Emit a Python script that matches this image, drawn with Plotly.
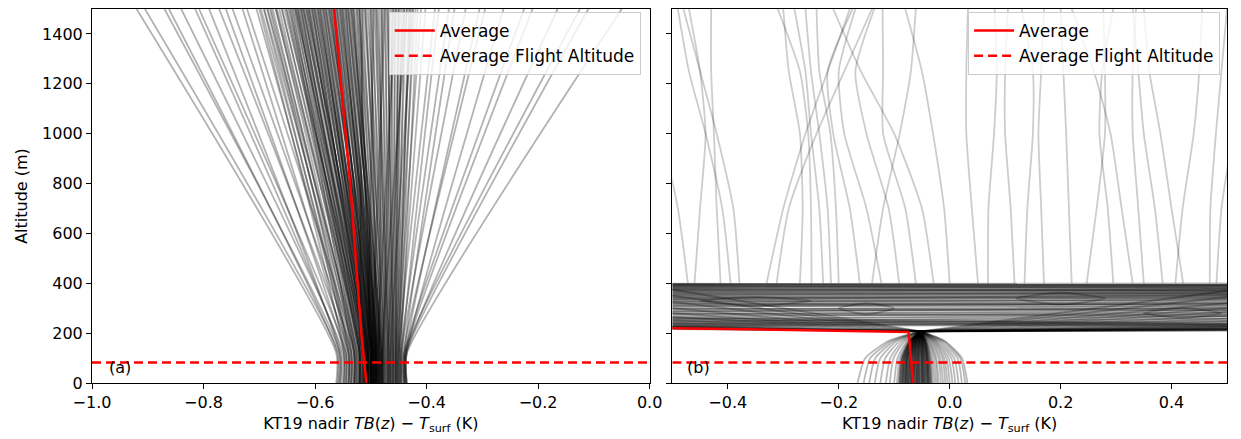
import plotly.graph_objects as go

# ---------------- Panel (a) data ----------------
L_KNEE_Z = 120          # altitude below which profiles are ~vertical
L_TOP_Z = 1500
L_XB = [  # TB(z)-Tsurf at the surface (z=0)
    -0.562,-0.558,-0.555,-0.56,-0.55,-0.553,-0.545,-0.556,-0.54,-0.548,-0.535,-0.545,-0.53,-0.54,
    -0.548,-0.538,-0.543,-0.53,-0.536,-0.525,-0.54,-0.528,-0.533,-0.52,-0.53,-0.518,-0.526,-0.515,-0.522,-0.51,-0.52,-0.512,-0.517,-0.508,
    -0.535,-0.522,-0.53,-0.515,-0.527,-0.51,-0.524,-0.506,-0.52,-0.512,
    -0.518,-0.503,-0.515,-0.508,-0.513,-0.5,-0.51,-0.505,-0.507,-0.498,
    -0.512,-0.502,-0.506,-0.496,-0.509,-0.5,-0.504,-0.494,-0.507,-0.498,
    -0.502,-0.492,-0.505,-0.496,-0.5,-0.49,-0.503,-0.494,-0.498,-0.488,
    -0.5,-0.492,-0.496,-0.486,-0.498,-0.49,-0.494,-0.484,-0.496,-0.488,
    -0.492,-0.482,-0.494,-0.486,-0.49,-0.48,-0.492,-0.484,
    -0.49,-0.482,-0.486,-0.478,-0.484,-0.475,-0.482,-0.472,-0.48,-0.47,
    -0.478,-0.468,-0.476,-0.466,-0.474,-0.464,-0.472,-0.462,-0.47,-0.46,
    -0.468,-0.458,-0.466,-0.456,-0.464,-0.455,-0.462,-0.453,-0.46,-0.452,
    -0.458,-0.45,-0.456,-0.448,-0.454,-0.446,
    -0.452,-0.448,-0.45,-0.444,-0.446,-0.44,-0.445,-0.438,-0.442,-0.436,-0.44,-0.438,-0.436,-0.44,-0.437,-0.435,
    -0.505,-0.515,-0.498,-0.51,-0.493,-0.505,-0.488,-0.5,-0.485,-0.495,-0.48,-0.49,
    -0.52,-0.502,-0.512,-0.496,-0.507,-0.491,-0.5,-0.487,-0.497,-0.482,-0.492,-0.478,
    -0.5,-0.475,-0.49,-0.468,-0.485,-0.46,-0.478,-0.455,-0.47,-0.45,-0.52,-0.505,-0.498,-0.488,-0.48,-0.465,
]
L_XT = [  # TB(z)-Tsurf at 1500 m
    -0.92,-0.905,-0.87,-0.862,-0.84,-0.815,-0.808,-0.79,-0.772,-0.76,-0.748,-0.73,-0.722,-0.705,
    -0.70,-0.697,-0.692,-0.691,-0.686,-0.685,-0.681,-0.679,-0.676,-0.671,-0.67,-0.668,-0.664,-0.66,-0.659,-0.655,-0.652,-0.651,-0.648,-0.646,
    -0.644,-0.642,-0.64,-0.638,-0.636,-0.634,-0.632,-0.63,-0.628,-0.626,
    -0.624,-0.622,-0.62,-0.618,-0.616,-0.614,-0.612,-0.61,-0.608,-0.606,
    -0.604,-0.602,-0.6,-0.598,-0.596,-0.594,-0.592,-0.59,-0.588,-0.586,
    -0.584,-0.582,-0.58,-0.578,-0.576,-0.574,-0.572,-0.57,-0.568,-0.566,
    -0.564,-0.562,-0.56,-0.558,-0.556,-0.554,-0.552,-0.55,-0.548,-0.546,
    -0.544,-0.542,-0.54,-0.538,-0.536,-0.534,-0.532,-0.53,
    -0.527,-0.524,-0.521,-0.518,-0.515,-0.512,-0.509,-0.506,-0.503,-0.5,
    -0.497,-0.494,-0.491,-0.488,-0.485,-0.482,-0.479,-0.476,-0.473,-0.47,
    -0.467,-0.464,-0.461,-0.458,-0.455,-0.452,-0.449,-0.446,-0.443,-0.44,
    -0.436,-0.432,-0.428,-0.424,-0.42,-0.416,
    -0.41,-0.402,-0.385,-0.378,-0.36,-0.35,-0.33,-0.305,-0.295,-0.262,-0.225,-0.21,-0.165,-0.125,-0.11,-0.05,
    -0.635,-0.625,-0.615,-0.605,-0.595,-0.585,-0.575,-0.565,-0.555,-0.545,-0.535,-0.525,
    -0.631,-0.621,-0.611,-0.601,-0.591,-0.581,-0.571,-0.561,-0.551,-0.541,-0.531,-0.521,
    -0.52,-0.51,-0.5,-0.49,-0.48,-0.47,-0.46,-0.45,-0.44,-0.43,-0.515,-0.495,-0.475,-0.455,-0.435,-0.425,
]
L_AVG_Z = [0, 200, 800, 1500]
L_AVG_X = [-0.508, -0.517, -0.537, -0.566]
FLIGHT_ALT = 82

# ---------------- Panel (b) data ----------------
R_LOW_Z = [0, 100, 170]
R_X0 = [-0.166,-0.155,-0.145,-0.135,-0.125,-0.115,-0.108,-0.1,
        -0.095,-0.092,-0.09,-0.088,-0.086,-0.084,-0.082,-0.08,-0.078,-0.076,
        -0.074,-0.072,-0.07,-0.068,-0.066,-0.064,-0.062,-0.06,-0.058,-0.056,
        -0.054,-0.052,-0.05,-0.048,-0.046,-0.044,-0.042,-0.04,-0.038,-0.036,-0.034,-0.032,
        -0.029,-0.026,-0.023,-0.02,-0.016,-0.012,-0.008,-0.004,0.0,0.005,0.01,0.016,0.022,0.028,0.032,
        -0.085,-0.075,-0.065,-0.055,-0.045,
        -0.091,-0.089,-0.087,-0.085,-0.083,-0.081,-0.079,-0.077,-0.075,-0.073,
        -0.071,-0.069,-0.067,-0.065,-0.063,-0.061,-0.059,-0.057,-0.055,-0.053,
        -0.051,-0.049,-0.047,-0.045,-0.043,-0.041,-0.039,-0.037,-0.035,-0.033,
        -0.08,-0.07,-0.06,-0.05,-0.04,-0.078,-0.068,-0.058,-0.048,-0.038]
R_X100 = [-0.152,-0.143,-0.134,-0.125,-0.116,-0.107,-0.101,-0.094,
          -0.09,-0.087,-0.085,-0.084,-0.082,-0.08,-0.078,-0.077,-0.075,-0.073,
          -0.071,-0.07,-0.068,-0.066,-0.064,-0.063,-0.061,-0.059,-0.057,-0.056,
          -0.054,-0.052,-0.05,-0.048,-0.047,-0.045,-0.043,-0.041,-0.04,-0.038,-0.036,-0.034,
          -0.032,-0.029,-0.026,-0.024,-0.02,-0.017,-0.013,-0.01,-0.006,-0.002,0.003,0.008,0.014,0.019,0.022,
          -0.081,-0.072,-0.063,-0.055,-0.046,
          -0.087,-0.085,-0.083,-0.082,-0.08,-0.078,-0.076,-0.075,-0.073,-0.071,
          -0.07,-0.068,-0.066,-0.064,-0.063,-0.061,-0.059,-0.057,-0.055,-0.053,
          -0.051,-0.05,-0.048,-0.046,-0.044,-0.043,-0.041,-0.039,-0.038,-0.036,
          -0.078,-0.069,-0.06,-0.051,-0.042,-0.076,-0.067,-0.058,-0.049,-0.04]
R_X170 = [-0.109,-0.104,-0.099,-0.094,-0.089,-0.084,-0.08,-0.076,
          -0.074,-0.072,-0.071,-0.07,-0.069,-0.068,-0.067,-0.066,-0.065,-0.064,
          -0.063,-0.062,-0.061,-0.06,-0.059,-0.058,-0.057,-0.056,-0.055,-0.054,
          -0.053,-0.052,-0.051,-0.05,-0.049,-0.048,-0.047,-0.046,-0.045,-0.044,-0.043,-0.042,
          -0.041,-0.039,-0.038,-0.036,-0.034,-0.032,-0.03,-0.028,-0.026,-0.024,-0.021,-0.018,-0.015,-0.012,-0.01,
          -0.069,-0.064,-0.059,-0.054,-0.049,
          -0.072,-0.071,-0.07,-0.069,-0.068,-0.067,-0.066,-0.065,-0.064,-0.063,
          -0.062,-0.061,-0.06,-0.059,-0.058,-0.057,-0.056,-0.055,-0.054,-0.053,
          -0.052,-0.051,-0.05,-0.049,-0.048,-0.047,-0.046,-0.045,-0.044,-0.043,
          -0.066,-0.061,-0.056,-0.051,-0.046,-0.065,-0.06,-0.055,-0.05,-0.045]
R_VERTEX_X = -0.052
R_VERTEX_Z = 207
R_FAN_RIGHT_Z = [210,211,212,213,214,215,216,217,218,219,220,222,224,226,228,
                 231,235,240,248,258,270,285,300,320,345,370]
R_FAN_LEFT_Z = [216,218,219,220,221,222,223,224,226,228,231,235,242,252,265,
                280,300,325,350,375]
R_CROSS_ZL = [398,397,395,393,391,388,385,382,379,376,373,370,366,362,358,
              354,350,346,342,338,334,330,326,322,318,314,310,305,300,295,
              290,285,280,275,270,265,260,255,250,245,240,236,232,228,225,
              396,390,384,377,369,361,353,344,336,327,318,309,297,287,277,
              238,246,252,258,262]
R_CROSS_ZR = [396,399,390,394,384,392,378,386,372,380,366,376,360,370,352,
              364,346,356,338,350,330,344,322,336,316,326,306,318,298,310,
              290,300,282,292,276,284,266,276,258,268,250,258,242,248,236,
              392,381,389,369,374,357,362,341,352,332,312,320,293,302,270,
              226,229,232,234,238]
R_UP_Z = [400, 700, 1000, 1250, 1500]
R_UP_X = [
    [-0.472,-0.49,-0.52,-0.55,-0.56],
    [-0.413,-0.42,-0.425,-0.43,-0.43],
    [-0.395,-0.41,-0.44,-0.47,-0.49],
    [-0.379,-0.39,-0.42,-0.45,-0.48],
    [-0.312,-0.29,-0.24,-0.19,-0.14],
    [-0.249,-0.25,-0.255,-0.27,-0.31],
    [-0.228,-0.235,-0.25,-0.26,-0.28],
    [-0.214,-0.22,-0.235,-0.25,-0.26],
    [-0.200,-0.205,-0.215,-0.235,-0.24],
    [-0.162,-0.18,-0.21,-0.22,-0.175],
    [-0.123,-0.15,-0.19,-0.20,-0.17],
    [-0.091,-0.11,-0.15,-0.17,-0.136],
    [-0.061,-0.08,-0.12,-0.12,-0.121],
    [-0.029,-0.05,-0.10,-0.16,-0.21],
    [-0.14,-0.12,-0.09,-0.07,-0.061],
    [0.051,0.04,0.03,0.03,0.033],
    [0.069,0.07,0.08,0.085,0.081],
    [0.117,0.11,0.10,0.10,0.105],
    [0.135,0.14,0.15,0.15,0.13],
    [0.170,0.165,0.16,0.165,0.170],
    [0.247,0.265,0.28,0.28,0.277],
    [0.295,0.285,0.27,0.275,0.295],
    [0.330,0.31,0.29,0.26,0.22],
    [0.350,0.34,0.33,0.33,0.336],
    [0.384,0.37,0.35,0.34,0.33],
    [0.407,0.42,0.44,0.45,0.455],
    [0.421,0.40,0.38,0.36,0.35],
    [0.469,0.47,0.48,0.49,0.50],
    [0.481,0.49,0.51,0.52,0.53],
    [-0.46,-0.45,-0.44,-0.45,-0.47],
    [-0.27,-0.265,-0.27,-0.29,-0.30],
    [0.0,-0.01,-0.03,-0.05,-0.08],
    [0.22,0.215,0.21,0.205,0.20],
    [-0.33,-0.30,-0.26,-0.22,-0.18],
]
R_LOOPS_X = [
    [-0.20,-0.15,-0.10,-0.15,-0.20],
    [0.12,0.20,0.28,0.20,0.12],
    [-0.45,-0.35,-0.25,-0.35,-0.45],
    [0.35,0.42,0.49,0.42,0.35],
]
R_LOOPS_Z = [
    [300,320,300,275,300],
    [340,362,340,315,340],
    [330,345,330,310,330],
    [280,300,280,262,280],
]
R_AVG_X = [-0.066, -0.074, -0.5]
R_AVG_Z = [0, 205, 220]
R_XEDGE = [-0.5, 0.5]
L_XEDGE = [-1.0, 0.0]

GRAY_L = "rgba(0,0,0,0.3)"
GRAY_R = "rgba(0,0,0,0.27)"
GRAY_UP = "rgba(0,0,0,0.2)"
LW = 1.8
RED = "#ff0000"

fig = go.Figure()

def gline(x, y, xa, ya, color, spline=False):
    fig.add_trace(go.Scatter(
        x=x, y=y, mode="lines", xaxis=xa, yaxis=ya, showlegend=False,
        hoverinfo="skip",
        line=dict(color=color, width=LW, shape="spline" if spline else "linear", smoothing=0.6)))

# panel (a) profiles
for xb, xt in zip(L_XB, L_XT):
    gline([xb, xb, xt], [0, L_KNEE_Z, L_TOP_Z], "x", "y", GRAY_L, spline=True)

# panel (b) profiles
for x0, x1, x2 in zip(R_X0, R_X100, R_X170):
    gline([x0, x1, x2, R_VERTEX_X], R_LOW_Z + [R_VERTEX_Z], "x2", "y2", GRAY_R, spline=True)
for z in R_FAN_RIGHT_Z:
    gline([R_VERTEX_X, R_XEDGE[1]], [R_VERTEX_Z, z], "x2", "y2", GRAY_R)
for z in R_FAN_LEFT_Z:
    gline([R_VERTEX_X, R_XEDGE[0]], [R_VERTEX_Z, z], "x2", "y2", GRAY_R)
for zl, zr in zip(R_CROSS_ZL, R_CROSS_ZR):
    gline(R_XEDGE, [zl, zr], "x2", "y2", GRAY_R)
for xs in R_UP_X:
    gline(xs, R_UP_Z, "x2", "y2", GRAY_UP, spline=True)
for xs, zs in zip(R_LOOPS_X, R_LOOPS_Z):
    gline(xs, zs, "x2", "y2", GRAY_R, spline=True)

# averages and flight altitude
for xa, ya, lg, ax, az, xe in [("x", "y", "legend", L_AVG_X, L_AVG_Z, L_XEDGE),
                              ("x2", "y2", "legend2", R_AVG_X, R_AVG_Z, R_XEDGE)]:
    fig.add_trace(go.Scatter(x=ax, y=az, mode="lines", xaxis=xa, yaxis=ya,
                             name="Average", legend=lg,
                             line=dict(color=RED, width=2.5)))
    fig.add_trace(go.Scatter(x=xe, y=[FLIGHT_ALT, FLIGHT_ALT], mode="lines", xaxis=xa, yaxis=ya,
                             name="Average Flight Altitude", legend=lg,
                             line=dict(color=RED, width=2.5, dash="9px,5px")))

FONT = dict(family="DejaVu Sans", size=16, color="black")
LFONT = dict(family="DejaVu Sans", size=17, color="black")
xlabel = "KT19 nadir <i>TB</i>(<i>z</i>) − <i>T</i><sub>surf</sub> (K)"
axis_common = dict(showgrid=False, zeroline=False, showline=True, linecolor="black",
                   linewidth=1, mirror=True, ticks="outside", ticklen=5, tickwidth=1,
                   tickcolor="black", tickfont=FONT)
leg_common = dict(font=LFONT, bgcolor="rgba(255,255,255,0.8)", bordercolor="#cccccc",
                  borderwidth=1, xanchor="right", yanchor="top", tracegroupgap=0,
                  itemwidth=40)

fig.update_layout(
    width=1241, height=439,
    margin=dict(l=92, r=1, t=9, b=56),
    paper_bgcolor="white", plot_bgcolor="white",
    font=FONT,
    xaxis=dict(domain=[0, 0.4913], range=[-1.0, 0.0], dtick=0.2, tickformat=".1f",
               title=dict(text=xlabel, font=FONT, standoff=6), **axis_common),
    yaxis=dict(domain=[0, 1], range=[0, 1500], dtick=200,
               title=dict(text="Altitude (m)", font=FONT, standoff=10), **axis_common),
    xaxis2=dict(domain=[0.5113, 1], range=[-0.5, 0.5], dtick=0.2, tickformat=".1f",
                anchor="y2", title=dict(text=xlabel, font=FONT, standoff=6), **axis_common),
    yaxis2=dict(domain=[0, 1], range=[0, 1500], dtick=200, anchor="x2",
                matches="y", showticklabels=False, **axis_common),
    legend=dict(x=0.4835, y=0.992, **leg_common),
    legend2=dict(x=0.9939, y=0.992, **leg_common),
    annotations=[
        dict(text="(a)", x=-0.95, y=62, xref="x", yref="y", showarrow=False, font=FONT),
        dict(text="(b)", x=-0.452, y=62, xref="x2", yref="y2", showarrow=False, font=FONT),
    ],
)

fig.write_html("out.html")
